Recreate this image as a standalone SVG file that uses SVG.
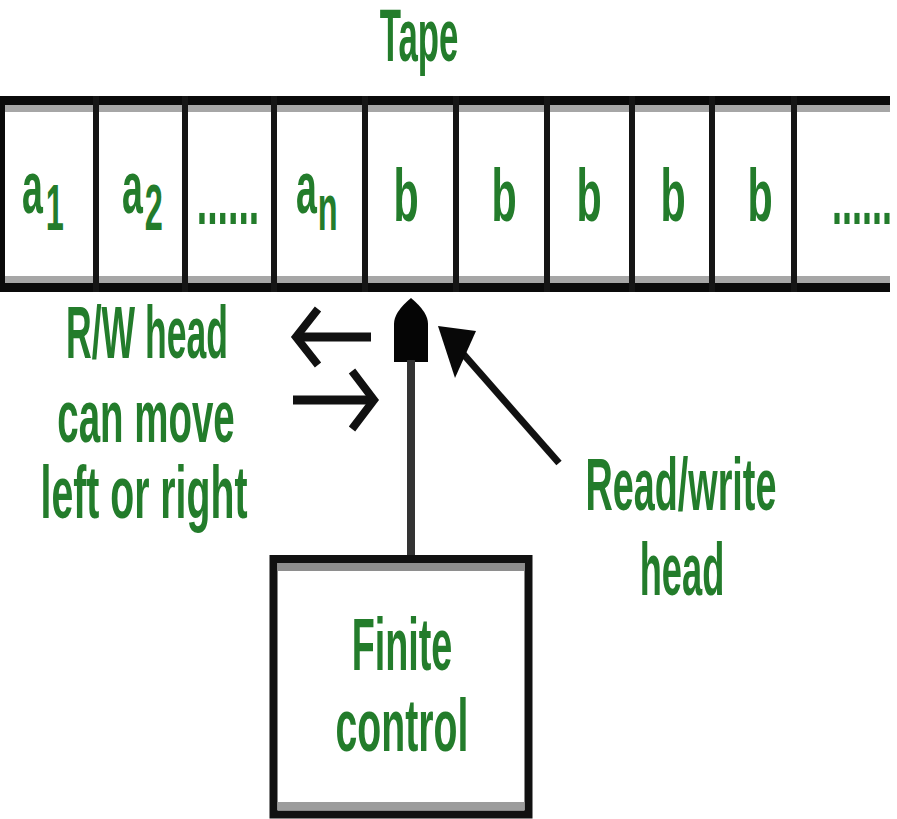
<svg xmlns="http://www.w3.org/2000/svg" width="897" height="819" viewBox="0 0 897 819">
<style>
.lbl{font-family:"Liberation Sans",Arial,sans-serif;font-size:74px;font-weight:bold;fill:#237c2b;text-anchor:middle}
.cell{font-family:"Liberation Sans",Arial,sans-serif;font-size:75px;font-weight:bold;fill:#237c2b}
.sub{font-size:65px}
.blk{fill:#0a0a0a}
.band{fill:#a6a6a6}
.div{stroke:#151515;stroke-width:6}
.shaft{stroke:#111;stroke-width:9;fill:none}
.chev{stroke:#111;stroke-width:8;fill:none;stroke-linecap:butt;stroke-linejoin:miter}
</style>
<rect width="897" height="819" fill="#fff"/>

<g id="title">
<text class="lbl" font-size="74" transform="translate(419,61) scale(0.47,1)">Tape</text>
</g>

<g id="tape">
<rect class="blk" x="0" y="96" width="890" height="9"/>
<rect class="band" x="5" y="105" width="885" height="7"/>
<rect class="band" x="5" y="276" width="885" height="7" fill="#b4b4b4"/>
<rect class="blk" x="0" y="283" width="890" height="9"/>
<rect class="blk" x="0" y="96" width="5" height="196"/>
<g class="div">
<line x1="96" y1="96" x2="96" y2="292"/>
<line x1="185" y1="96" x2="185" y2="292"/>
<line x1="274" y1="96" x2="274" y2="292"/>
<line x1="365" y1="96" x2="365" y2="292"/>
<line x1="456" y1="96" x2="456" y2="292"/>
<line x1="547" y1="96" x2="547" y2="292"/>
<line x1="632" y1="96" x2="632" y2="292"/>
<line x1="712" y1="96" x2="712" y2="292"/>
<line x1="794" y1="96" x2="794" y2="292"/>
</g>
<g id="cells">
<text class="cell" transform="translate(22,213) scale(0.5,1)">a<tspan class="sub" dx="6" dy="17">1</tspan></text>
<text class="cell" transform="translate(122,213) scale(0.5,1)">a<tspan class="sub" dx="4" dy="17">2</tspan></text>
<text class="cell" transform="translate(228,224) scale(0.5,1)" text-anchor="middle">......</text>
<text class="cell" transform="translate(296,213) scale(0.5,1)">a<tspan class="sub" dx="2" dy="17">n</tspan></text>
<text class="cell" transform="translate(406,221) scale(0.55,1)" text-anchor="middle">b</text>
<text class="cell" transform="translate(504,221) scale(0.55,1)" text-anchor="middle">b</text>
<text class="cell" transform="translate(589,221) scale(0.55,1)" text-anchor="middle">b</text>
<text class="cell" transform="translate(673,221) scale(0.55,1)" text-anchor="middle">b</text>
<text class="cell" transform="translate(760,221) scale(0.55,1)" text-anchor="middle">b</text>
<text class="cell" transform="translate(832,224) scale(0.48,1)">......</text>
</g>
</g>

<g id="rw-head">
<path d="M411,298 Q428,312 428,324 V362 H394 V324 Q394,312 411,298 Z" fill="#050505"/>
</g>

<g id="move-label">
<text class="lbl" transform="translate(147,358) scale(0.48,1)">R/W head</text>
<text class="lbl" transform="translate(146,442) scale(0.52,1)">can move</text>
<text class="lbl" transform="translate(144,518) scale(0.53,1)">left or right</text>
</g>

<g id="rw-label">
<text class="lbl" transform="translate(681,510) scale(0.51,1)">Read/write</text>
<text class="lbl" transform="translate(682,595) scale(0.49,1)">head</text>
</g>

<g id="finite-control">
<rect x="273.5" y="559" width="255" height="255.5" fill="#fff" stroke="#111" stroke-width="8"/>
<rect x="277.5" y="563" width="247" height="8" fill="#8e8e8e"/>
<rect x="277.5" y="802" width="247" height="8" fill="#9c9c9c"/>
<text class="lbl" transform="translate(402,670) scale(0.51,1)">Finite</text>
<text class="lbl" transform="translate(402,751) scale(0.53,1)">control</text>
</g>

<g id="connectors">
<line x1="411" y1="555" x2="411" y2="360" stroke="#333" stroke-width="8"/>
<line class="shaft" x1="297" y1="337" x2="371" y2="337"/>
<path class="chev" d="M318,309 L296,337 L318,365"/>
<line class="shaft" x1="293" y1="400" x2="372" y2="400"/>
<path class="chev" d="M352,371 L374,400 L352,429"/>
<line x1="559" y1="463" x2="458" y2="348" stroke="#111" stroke-width="7"/>
<polygon points="438,326 476,331 455,378" fill="#080808"/>
</g>
</svg>
